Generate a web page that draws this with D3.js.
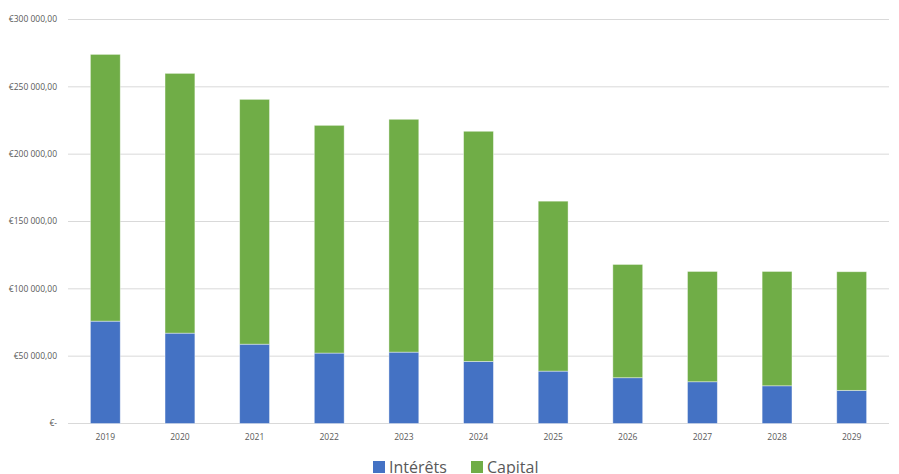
<!DOCTYPE html>
<html>
<head>
<meta charset="utf-8">
<script src="https://cdn.jsdelivr.net/npm/d3@7"></script>
<style>
  body { margin: 0; background: #fff; }
  svg { display: block; font-family: "Open Sans", "Liberation Sans", sans-serif; }
</style>
</head>
<body>
<svg id="chart" width="899" height="474"></svg>
<script>
// years and the two stacked series (EUR)
const years = ["2019", "2020", "2021", "2022", "2023", "2024", "2025", "2026", "2027", "2028", "2029"];
const interets = [76000, 67100, 58900, 52300, 53000, 46100, 38900, 34000, 31000, 28000, 24600];
const capital = [198100, 192900, 181800, 169100, 172900, 170900, 126200, 84100, 81900, 84900, 88100];
const yTicks = [0, 50000, 100000, 150000, 200000, 250000, 300000];
const seriesNames = ["Intérêts", "Capital"];
const colors = ["#4472C4", "#70AD47"];

const svg = d3.select("#chart");
const margin = { top: 19.5, right: 10, bottom: 50.5, left: 68 };
const width = 899 - margin.left - margin.right;
const height = 474 - margin.top - margin.bottom;

const rows = years.map((y, i) => ({ year: y, "Intérêts": interets[i], "Capital": capital[i] }));
const stacked = d3.stack().keys(seriesNames)(rows);

const x = d3.scaleBand().domain(years).range([0, width]).paddingInner(0.6).paddingOuter(0.3);
const y = d3.scaleLinear().domain([0, 300000]).range([height, 0]);

const g = svg.append("g").attr("transform", `translate(${margin.left},${margin.top})`);

// gridlines
g.append("g").selectAll("line")
  .data(yTicks)
  .join("line")
  .attr("x1", 0).attr("x2", width)
  .attr("y1", d => y(d)).attr("y2", d => y(d))
  .attr("stroke", "#d9d9d9").attr("stroke-width", 1);

// y labels
const fmt = d => d === 0 ? "€-" : "€" + d3.format(",.2f")(d).replace(/,/g, " ").replace(".", ",");
g.append("g").selectAll("text")
  .data(yTicks)
  .join("text")
  .attr("x", -11)
  .attr("y", d => y(d))
  .attr("dy", "0.35em")
  .attr("text-anchor", "end")
  .attr("font-size", 8.5)
  .attr("fill", "#595959")
  .text(fmt);

// bars
g.append("g").selectAll("g")
  .data(stacked)
  .join("g")
  .attr("fill", (d, i) => colors[i])
  .selectAll("rect")
  .data(d => d)
  .join("rect")
  .attr("x", d => x(d.data.year))
  .attr("width", x.bandwidth())
  .attr("y", d => y(d[1]))
  .attr("height", d => y(d[0]) - y(d[1]))
  .attr("stroke", "#ffffff")
  .attr("stroke-opacity", 0.5)
  .attr("stroke-width", 0.8);

// x labels
g.append("g").selectAll("text")
  .data(years)
  .join("text")
  .attr("x", d => x(d) + x.bandwidth() / 2)
  .attr("y", height + 16)
  .attr("text-anchor", "middle")
  .attr("font-size", 8.5)
  .attr("fill", "#595959")
  .text(d => d);

// legend
const legend = svg.append("g");
const legendItems = [{ name: seriesNames[0], x: 373 }, { name: seriesNames[1], x: 471 }];
legendItems.forEach((d, i) => {
  legend.append("rect")
    .attr("x", d.x).attr("y", 461)
    .attr("width", 12).attr("height", 12)
    .attr("fill", colors[i]);
  legend.append("text")
    .attr("x", d.x + 16).attr("y", 473)
    .attr("font-size", 16)
    .attr("fill", "#595959")
    .text(d.name);
});
</script>
</body>
</html>
